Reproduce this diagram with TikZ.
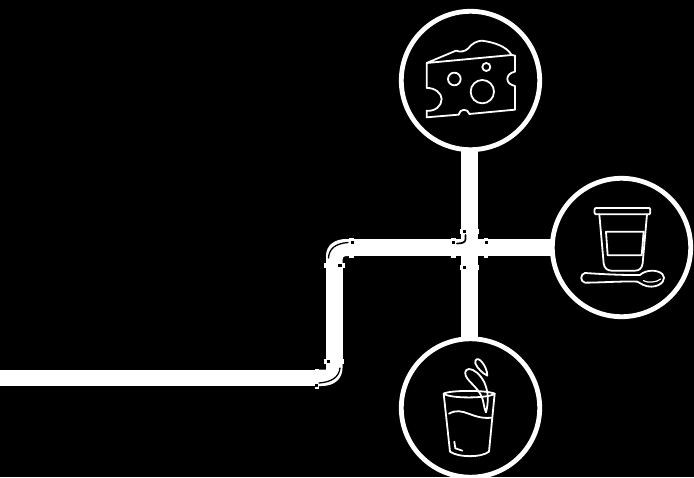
\documentclass[tikz,border=0pt]{standalone}
\begin{document}
\begin{tikzpicture}[x=1pt,y=-1pt,
  ring/.style={draw=white,line width=4.8pt,fill=black},
  pipe/.style={fill=white,draw=none},
  ico/.style={draw=white,line width=1.8pt,line join=round,line cap=round,fill=none},
  hole/.style={fill=black,draw=none},
  shine/.style={draw=black,line width=1.3pt,line cap=round,fill=none}]
\path[use as bounding box,fill=black] (0,0) rectangle (694,477);
\begin{scope}
\clip (0,0) rectangle (694,477);
% pipes
\fill[pipe] (0,369.5) rectangle (318,386);
\fill[pipe] (326,264) rectangle (342.5,360);
\fill[pipe] (350,239) rectangle (555,256);
\fill[pipe] (461,150) rectangle (477.5,342);
% elbow upper
\fill[pipe] (326,264) -- (326,256) .. controls (326,245) and (335,239) .. (346,239) -- (350,239) -- (350,256) -- (346,256) .. controls (344,256) and (342.5,257) .. (342.5,260) -- (342.5,264) -- cycle;
\fill[pipe] (324,262.5) rectangle (344.5,268);
\fill[pipe] (349,237.5) rectangle (354,258);
\fill[hole] (338,263.5) rectangle (341.5,267);
\fill[hole] (350.5,240.5) rectangle (353.5,244);
\draw[shine] (328.5,258) .. controls (329,249) and (335,243.5) .. (348,242.5);
% elbow lower
\fill[pipe] (318,369.5) -- (326,369.5) -- (326,360) -- (342.5,360) -- (342.5,368) .. controls (342.5,379) and (334,386) .. (322,386) -- (318,386) -- cycle;
\fill[pipe] (324,359) rectangle (343.5,363.5);
\fill[pipe] (314.5,368.5) rectangle (318.5,388.5);
\fill[hole] (326.5,359.5) rectangle (330,362.5);
\fill[hole] (315,383.5) rectangle (318,386.5);
\draw[shine] (340,368) .. controls (339,377) and (332,382) .. (319,383);
% cross
\fill[pipe] (461,228) rectangle (477.5,270);
\fill[pipe] (450,239) rectangle (489,256);
\fill[pipe] (459.5,229) rectangle (479,233.5);
\fill[pipe] (459.5,265) rectangle (479,269.5);
\fill[pipe] (451,237.5) rectangle (455.5,258);
\fill[pipe] (483.5,237.5) rectangle (488,258);
\fill[hole] (462.5,229.5) rectangle (465.5,232.5);
\fill[hole] (452,241) rectangle (455,244);
\fill[hole] (484.5,241) rectangle (487.5,244);
\fill[hole] (462.5,265.5) rectangle (465.5,268.5);
\draw[shine,line width=1.7pt] (465.5,235) -- (465.5,239) .. controls (465.5,242) and (463,243.5) .. (457,243.5);
% circles
\draw[ring] (470.5,80.5) circle (69.2);
\draw[ring] (621.5,247.5) circle (69.2);
\draw[ring] (470.5,408) circle (69.2);
% cheese
\begin{scope}[shift={(400,5)},scale=0.3333]
\draw[ico] (80,174) -- (168,137) .. controls (180,142) and (195,140) .. (205,130) .. controls (215,115) and (232,108) .. (245,107) .. controls (285,112) and (320,125) .. (335,150) -- (80,174);
\draw[ico] (335,150) -- (345,152) -- (345,200) .. controls (330,203) and (322,212) .. (322,222) .. controls (322,233) and (332,240) .. (345,243) -- (345,314) -- (208,327) .. controls (205,310) and (178,310) .. (176,329) -- (80,337) -- (80,317) .. controls (105,320) and (125,303) .. (125,282) .. controls (125,265) and (105,248) .. (80,249) -- (80,174);
\draw[ico] (163,222) circle (19);
\draw[ico] (259,186) circle (12);
\draw[ico] (247,260) circle (35);
\end{scope}
% yogurt
\begin{scope}[shift={(550,175)},scale=0.3333]
\draw[ico] (137,99) -- (298,99) .. controls (302,99) and (302,118) .. (298,118) -- (137,118) .. controls (132,118) and (132,99) .. (137,99) -- cycle;
\draw[ico] (148,118) -- (161,265) .. controls (163,280) and (172,287) .. (185,287) -- (255,287) .. controls (268,287) and (276,280) .. (278,265) -- (291,118);
\draw[ico] (168,170) -- (281,170) -- (275,241) -- (173,241) -- cycle;
\draw[ico] (105,294) .. controls (150,297) and (220,301) .. (270,300) .. controls (285,285) and (320,282) .. (337,297) .. controls (350,310) and (338,333) .. (305,335) .. controls (285,336) and (272,325) .. (262,320) .. controls (220,318) and (150,323) .. (105,323) .. controls (90,320) and (90,297) .. (105,294) -- cycle;
\draw[ico,line width=1.2pt] (280,317) .. controls (295,325) and (320,322) .. (332,312);
\end{scope}
% milk
\begin{scope}[shift={(400,335)},scale=0.3333]
\draw[ico] (131,176) .. controls (150,165) and (260,165) .. (284,176) .. controls (270,190) and (150,192) .. (131,176) -- cycle;
\draw[ico] (131,176) -- (150,350) .. controls (175,368) and (245,368) .. (267,350) -- (284,176);
\draw[ico] (147,236) .. controls (190,212) and (215,255) .. (275,248);
\draw[ico] (163,320) -- (166,340) -- (187,347);
\draw[ico] (258,232) .. controls (266,200) and (266,170) .. (252,140) .. controls (240,118) and (222,102) .. (207,102) .. controls (192,103) and (193,120) .. (203,132) .. controls (218,150) and (238,165) .. (247,190) .. controls (252,205) and (252,220) .. (258,232) -- cycle;
\draw[ico] (226,85) .. controls (224,70) and (235,68) .. (245,80) .. controls (255,92) and (262,108) .. (262,122) .. controls (248,115) and (232,100) .. (226,85) -- cycle;
\end{scope}
\end{scope}
\end{tikzpicture}
\end{document}
